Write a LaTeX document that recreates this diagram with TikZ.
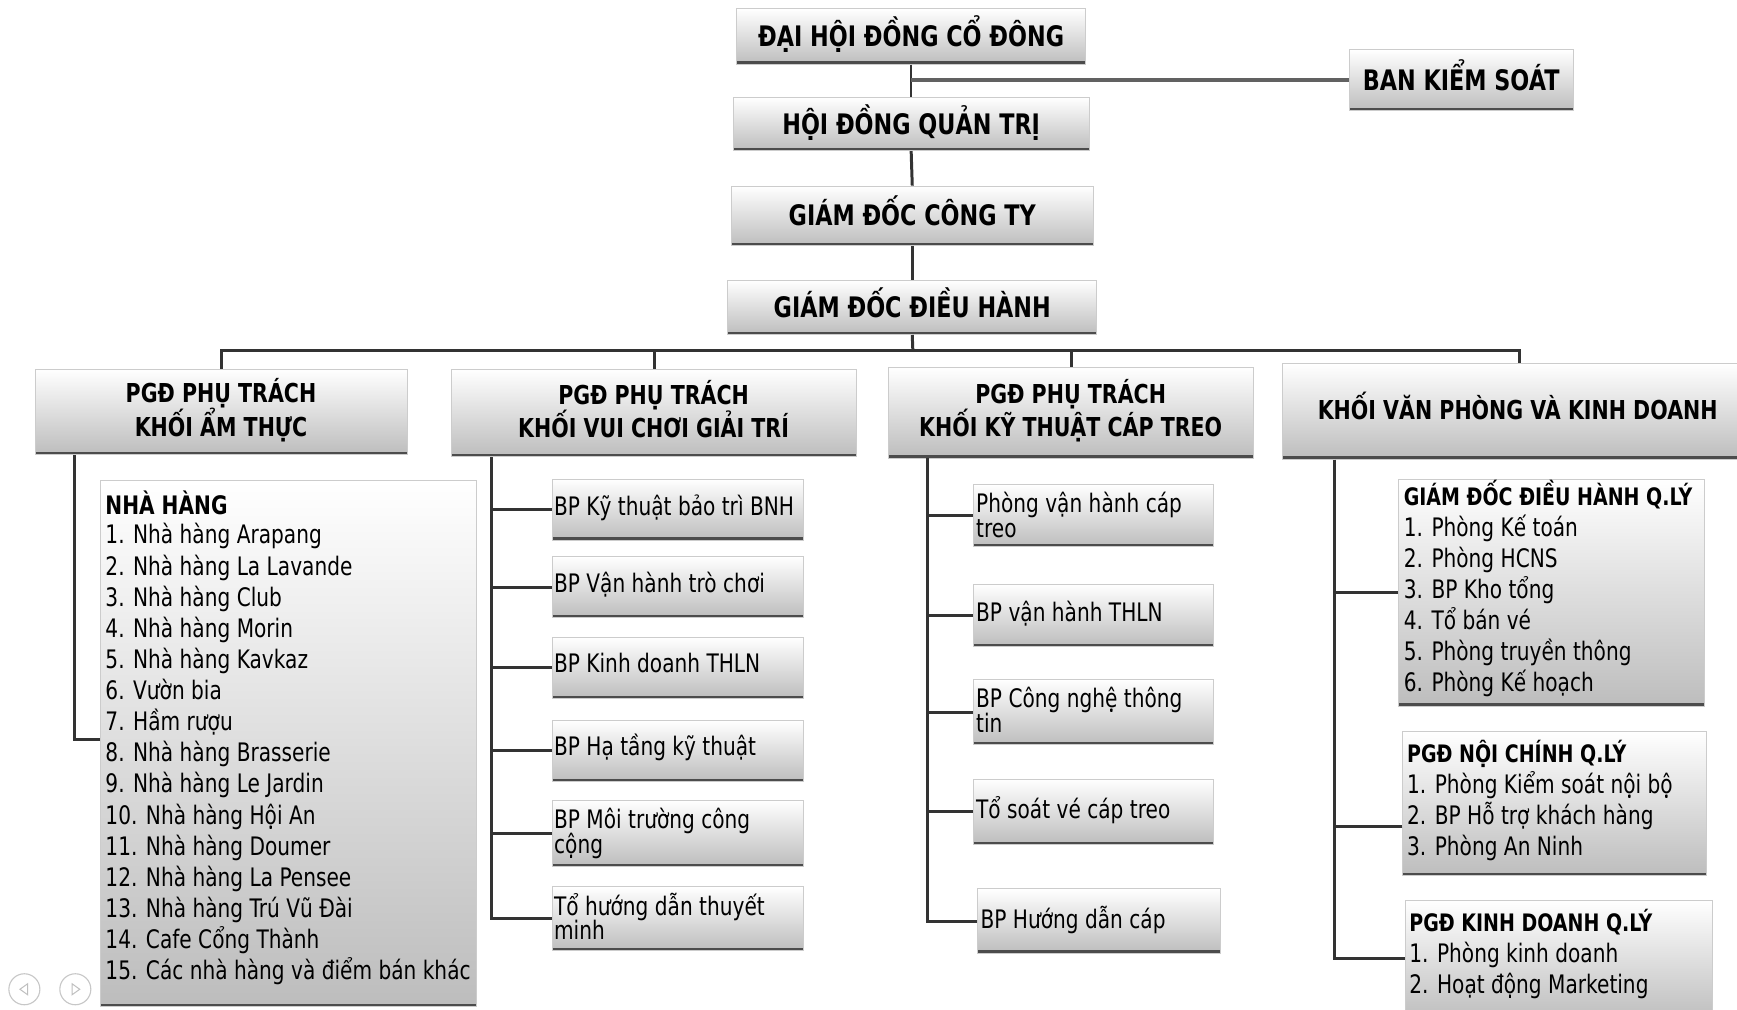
\documentclass[tikz,border=0pt]{standalone}
\usepackage{fontspec}
\setmainfont{DejaVu Sans}[FakeStretch=0.79]
\begin{document}
\begin{tikzpicture}[x=1pt,y=-1pt,
  bx/.style={draw=black!20, line width=0.8pt, shading=axis, top color=white, middle color=white!96!black, bottom color=black!26,
    inner sep=0pt, anchor=north west,
    path picture={\draw[black!70, line width=5pt] (path picture bounding box.south west) -- (path picture bounding box.south east);}},
  topbx/.style={bx, anchor=center, text height=18pt, text depth=0pt, font=\fontsize{25.5}{30}\selectfont\bfseries},
  conn/.style={draw=black!80, line width=2.7pt},
  tx/.style={inner sep=0pt, anchor=base west, font=\fontsize{23}{28}\selectfont},
  txb/.style={inner sep=0pt, anchor=base west, font=\fontsize{23}{28}\selectfont\bfseries},
  txr/.style={inner sep=0pt, anchor=base west, font=\fontsize{21.7}{28}\selectfont\bfseries},
  hdr/.style={inner sep=0pt, anchor=base, font=\fontsize{23.5}{28}\selectfont\bfseries},
  navbtn/.style={draw=black!22, line width=1pt, circle, minimum size=28pt, inner sep=0pt}]
\newcommand\bx[5]{\node[bx, minimum width=#4pt, minimum height=#5pt] (#1) at (#2,#3) {};}
\useasboundingbox (0,0) rectangle (1568,911);
\clip (0,0) rectangle (1568,911);
\fill[white] (0,0) rectangle (1568,911);

% ---------- top ----------
\node[topbx, minimum width=315pt, minimum height=50pt] (dh) at (822.5,33) {ĐẠI HỘI ĐỒNG CỔ ĐÔNG};
\node[topbx, minimum width=202pt, minimum height=55pt] (bks) at (1319,72.5) {BAN KIỂM SOÁT};
\node[topbx, minimum width=321pt, minimum height=48pt] (hd) at (822.5,112) {HỘI ĐỒNG QUẢN TRỊ};
\node[topbx, minimum width=327pt, minimum height=54pt] (gct) at (823.5,195) {GIÁM ĐỐC CÔNG TY};
\node[topbx, minimum width=333pt, minimum height=49pt] (gdh) at (823.5,277.5) {GIÁM ĐỐC ĐIỀU HÀNH};

\draw[draw=black!80, line width=1.3pt] (dh.south) -- (hd.north);
\draw[draw=black!62, line width=3.5pt] (bks.west) -- (bks.west -| dh.south);
\draw[conn] (hd.south) -- (gct.north);
\draw[conn] (gct.south) -- (gdh.north);

% ---------- second row ----------
\bx{c1}{32}{333}{335}{77}
\bx{c2}{407}{333}{366}{79}
\bx{c3}{802}{331}{329}{82}
\bx{c4}{1157}{328}{428}{86}
\node[hdr] (c1a) at (199.5,363) {PGĐ PHỤ TRÁCH};
\node[hdr] (c1b) at (199.5,394) {KHỐI ẨM THỰC};
\node[hdr] (c2a) at (590,365) {PGĐ PHỤ TRÁCH};
\node[hdr] (c2b) at (590,395) {KHỐI VUI CHƠI GIẢI TRÍ};
\node[hdr] (c3a) at (966.5,364) {PGĐ PHỤ TRÁCH};
\node[hdr] (c3b) at (966.5,394) {KHỐI KỸ THUẬT CÁP TREO};
\node[hdr] (c4a) at (1370,379) {KHỐI VĂN PHÒNG VÀ KINH DOANH};

\coordinate (bus) at (824,316);
\draw[conn] (gdh.south) -- (bus);
\draw[conn] (c1.north) -- (c1.north |- bus) -- (c4.north |- bus) -- (c4.north);
\draw[conn] (c2.north) -- (c2.north |- bus);
\draw[conn] (c3.north) -- (c3.north |- bus);

% ---------- column 1 ----------
\bx{nh}{90}{433}{340}{475}
\node[txb] (nh0) at (95,464) {NHÀ HÀNG};
\foreach \t [count=\i] in {1. Nhà hàng Arapang, 2. Nhà hàng La Lavande, 3. Nhà hàng Club,
  4. Nhà hàng Morin, 5. Nhà hàng Kavkaz, 6. Vườn bia, 7. Hầm rượu, 8. Nhà hàng Brasserie,
  9. Nhà hàng Le Jardin, 10. Nhà hàng Hội An, 11. Nhà hàng Doumer, 12. Nhà hàng La Pensee,
  13. Nhà hàng Trú Vũ Đài, 14. Cafe Cổng Thành, 15. Các nhà hàng và điểm bán khác}
  \node[tx] (nh\i) at (95,{491+28.1*(\i-1)}) {\t};
\coordinate (t1) at ([xshift=35pt]c1.south west);
\draw[conn] (t1) |- ([yshift=3.5pt]nh.west);

% slide navigation buttons (faint)
\node[navbtn] (nav1) at (22,893) {};
\node[navbtn] (nav2) at (68,893) {};
\draw[black!25, line width=0.9pt] ([xshift=3pt,yshift=-5pt]nav1.center) -- ([xshift=-4pt]nav1.center) -- ([xshift=3pt,yshift=5pt]nav1.center) -- cycle;
\draw[black!25, line width=0.9pt] ([xshift=-3pt,yshift=-5pt]nav2.center) -- ([xshift=4pt]nav2.center) -- ([xshift=-3pt,yshift=5pt]nav2.center) -- cycle;

% ---------- column 2 ----------
\bx{v1}{498}{432}{227}{55}
\bx{v2}{498}{502}{227}{55}
\bx{v3}{498}{575}{227}{55}
\bx{v4}{498}{650}{227}{55}
\bx{v5}{498}{722}{227}{60}
\bx{v6}{498}{800}{227}{58}
\node[tx] (v1t) at (500,465) {BP Kỹ thuật bảo trì BNH};
\node[tx] (v2t) at (500,535) {BP Vận hành trò chơi};
\node[tx] (v3t) at (500,607) {BP Kinh doanh THLN};
\node[tx] (v4t) at (500,682) {BP Hạ tầng kỹ thuật};
\node[tx] (v5t) at (500,748) {BP Môi trường công};
\node[tx] (v5u) at (500,770) {cộng};
\node[tx] (v6t) at (500,826) {Tổ hướng dẫn thuyết};
\node[tx] (v6u) at (500,848) {minh};
\coordinate (t2) at ([xshift=37pt]c2.south west);
\draw[conn] (t2) |- (v6.west);
\foreach \n in {v1,v2,v3,v4,v5} \draw[conn] (\n.west) -- (\n.west -| t2);

% ---------- column 3 ----------
\bx{k1}{878}{437}{217}{56}
\bx{k2}{878}{527}{217}{56}
\bx{k3}{878}{613}{217}{59}
\bx{k4}{878}{703}{217}{59}
\bx{k5}{882}{802}{219}{58}
\node[tx] (k1t) at (881,463) {Phòng vận hành cáp};
\node[tx] (k1u) at (881,485) {treo};
\node[tx] (k2t) at (881,561) {BP vận hành THLN};
\node[tx] (k3t) at (881,639) {BP Công nghệ thông};
\node[tx] (k3u) at (881,661) {tin};
\node[tx] (k4t) at (881,739) {Tổ soát vé cáp treo};
\node[tx] (k5t) at (885,838) {BP Hướng dẫn cáp};
\coordinate (t3) at ([xshift=35pt]c3.south west);
\draw[conn] (t3) |- (k5.west);
\foreach \n in {k1,k2,k3,k4} \draw[conn] (\n.west) -- (\n.west -| t3);

% ---------- column 4 ----------
\bx{r1}{1262}{432}{276}{205}
\bx{r2}{1266}{660}{274}{130}
\bx{r3}{1268}{812}{277}{110}
\node[txr] (r1h) at (1267,456) {GIÁM ĐỐC ĐIỀU HÀNH Q.LÝ};
\foreach \t [count=\i] in {1. Phòng Kế toán, 2. Phòng HCNS, 3. BP Kho tổng, 4. Tổ bán vé,
  5. Phòng truyền thông, 6. Phòng Kế hoạch}
  \node[tx] (r1\i) at (1267,{484+28*(\i-1)}) {\t};
\node[txr] (r2h) at (1270,688) {PGĐ NỘI CHÍNH Q.LÝ};
\foreach \t [count=\i] in {1. Phòng Kiểm soát nội bộ, 2. BP Hỗ trợ khách hàng, 3. Phòng An Ninh}
  \node[tx] (r2\i) at (1270,{716+28*(\i-1)}) {\t};
\node[txr] (r3h) at (1272,841) {PGĐ KINH DOANH Q.LÝ};
\foreach \t [count=\i] in {1. Phòng kinh doanh, 2. Hoạt động Marketing}
  \node[tx] (r3\i) at (1272,{869+28*(\i-1)}) {\t};
\coordinate (t4) at ([xshift=48pt]c4.south west);
\draw[conn] (t4) |- ([yshift=2pt]r3.west);
\draw[conn] (r1.west) -- (r1.west -| t4);
\draw[conn] ([yshift=-21pt]r2.west) -- ([yshift=-21pt]r2.west -| t4);
\end{tikzpicture}
\end{document}
